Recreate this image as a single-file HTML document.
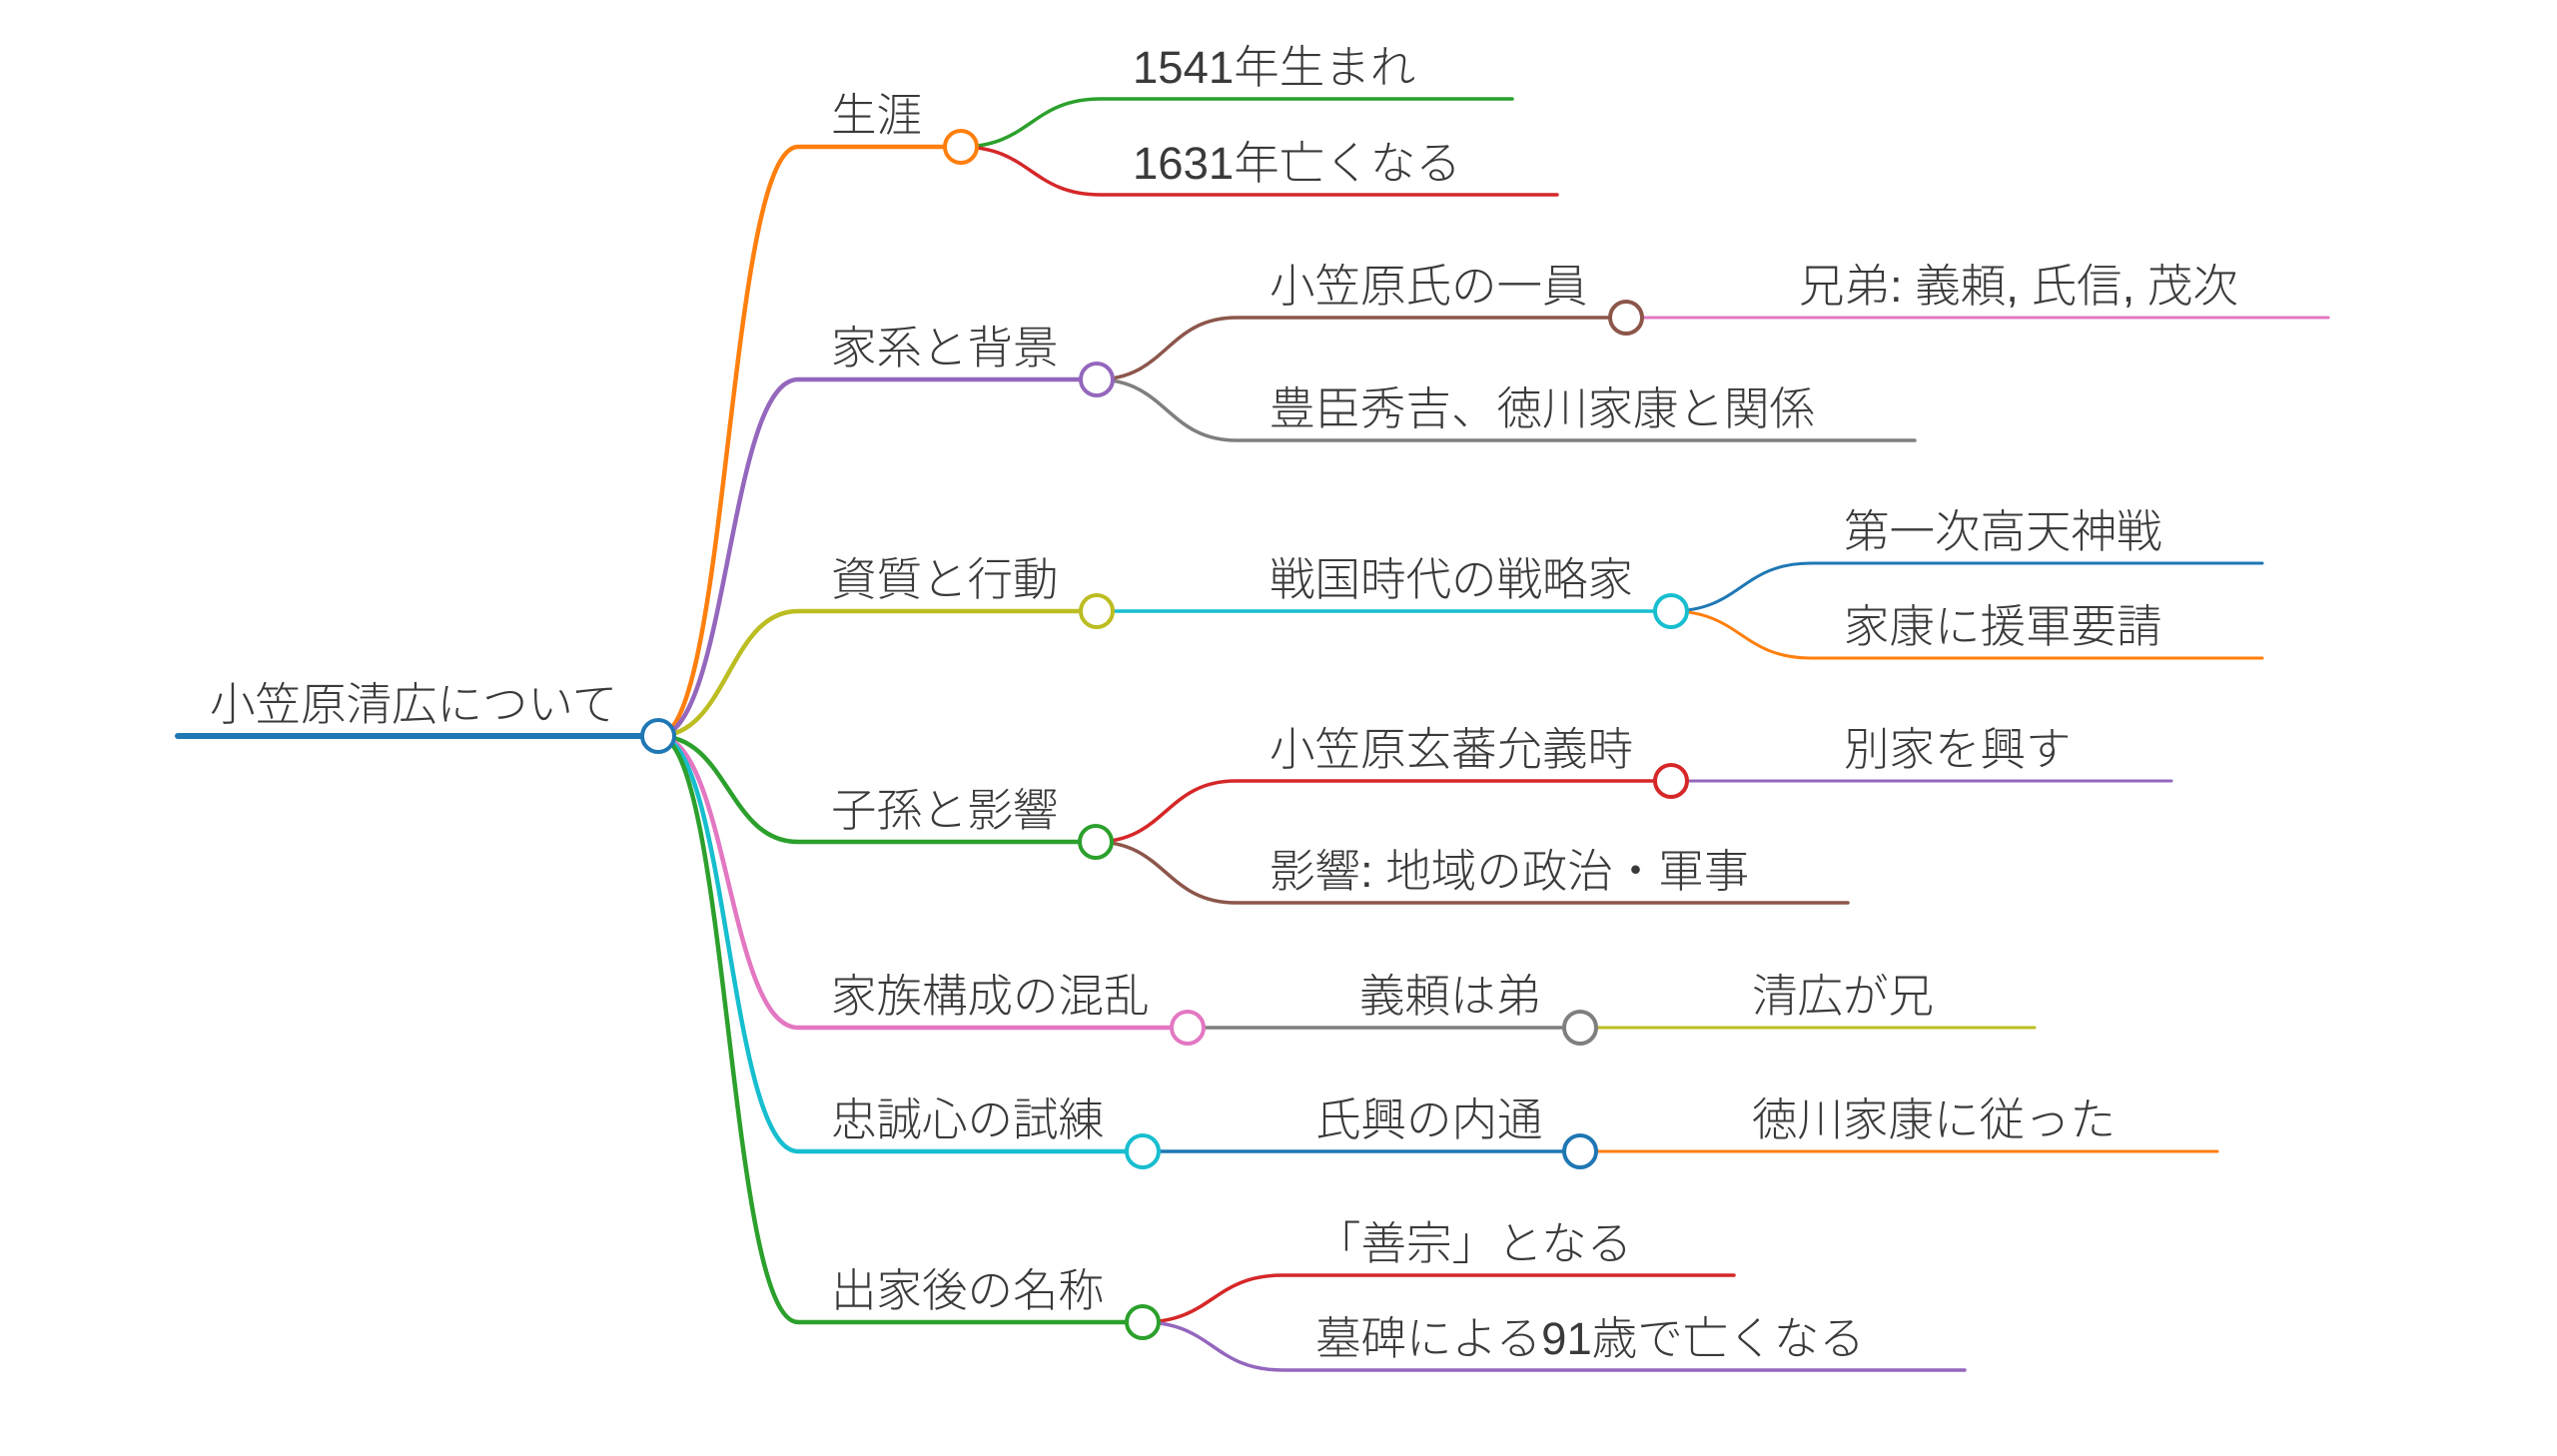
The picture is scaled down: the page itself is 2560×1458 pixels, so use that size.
<!DOCTYPE html>
<html lang="ja">
<head>
<meta charset="utf-8">
<style>
  html, body { margin: 0; padding: 0; background: #ffffff; }
  body { width: 2560px; height: 1458px; overflow: hidden; }
  svg { display: block; }
  text {
    font-family: "Liberation Sans", "Noto Sans CJK JP", sans-serif;
    font-size: 45.5px;
    font-weight: 300;
    fill: #3a3a3a;
  }
</style>
</head>
<body>
<svg width="2560" height="1458" viewBox="0 0 2560 1458" xmlns="http://www.w3.org/2000/svg">
  <g fill="none" stroke-linecap="round">
    <!-- Root line -->
    <path d="M178 737 H659" stroke="#1f77b4" stroke-width="6"/>

    <!-- Level 1 links -->
    <path d="M659 737 C729 737 729 147 799 147 H962" stroke="#ff7f0e" stroke-width="4.5"/>
    <path d="M659 737 C729 737 729 380 799 380 H1098" stroke="#9467bd" stroke-width="4.5"/>
    <path d="M659 737 C729 737 729 612 799 612 H1098" stroke="#bcbd22" stroke-width="4.5"/>
    <path d="M659 737 C729 737 729 843 799 843 H1097" stroke="#2ca02c" stroke-width="4.5"/>
    <path d="M659 737 C729 737 729 1029 799 1029 H1189" stroke="#e377c2" stroke-width="4.5"/>
    <path d="M659 737 C729 737 729 1153 799 1153 H1144" stroke="#17becf" stroke-width="4.5"/>
    <path d="M659 737 C729 737 729 1324 799 1324 H1144" stroke="#2ca02c" stroke-width="4.5"/>

    <!-- Level 2: 生涯 children -->
    <path d="M962 147 C1032 147 1032 99 1102 99 H1514" stroke="#2ca02c" stroke-width="3.5"/>
    <path d="M962 147 C1032 147 1032 195 1102 195 H1559" stroke="#d62728" stroke-width="3.5"/>

    <!-- Level 2: 家系と背景 children -->
    <path d="M1098 380 C1168 380 1168 318 1238 318 H1628" stroke="#8c564b" stroke-width="3.5"/>
    <path d="M1098 380 C1168 380 1168 441 1238 441 H1917" stroke="#7f7f7f" stroke-width="3.5"/>

    <!-- Level 2: 資質と行動 child -->
    <path d="M1098 612 H1673" stroke="#17becf" stroke-width="3.5"/>

    <!-- Level 2: 子孫と影響 children -->
    <path d="M1097 843 C1167 843 1167 782 1237 782 H1673" stroke="#d62728" stroke-width="3.5"/>
    <path d="M1097 843 C1167 843 1167 904 1237 904 H1850" stroke="#8c564b" stroke-width="3.5"/>

    <!-- Level 2: 家族構成の混乱 child -->
    <path d="M1189 1029 H1582" stroke="#7f7f7f" stroke-width="3.5"/>

    <!-- Level 2: 忠誠心の試練 child -->
    <path d="M1144 1153 H1582" stroke="#1f77b4" stroke-width="3.5"/>

    <!-- Level 2: 出家後の名称 children -->
    <path d="M1144 1324 C1214 1324 1214 1277 1284 1277 H1736" stroke="#d62728" stroke-width="3.5"/>
    <path d="M1144 1324 C1214 1324 1214 1372 1284 1372 H1967" stroke="#9467bd" stroke-width="3.5"/>

    <!-- Level 3 -->
    <path d="M1628 318 H2331" stroke="#e377c2" stroke-width="3"/>
    <path d="M1673 612 C1743 612 1743 564 1813 564 H2265" stroke="#1f77b4" stroke-width="3"/>
    <path d="M1673 612 C1743 612 1743 659 1813 659 H2265" stroke="#ff7f0e" stroke-width="3"/>
    <path d="M1673 782 H2174" stroke="#9467bd" stroke-width="3"/>
    <path d="M1582 1029 H2037" stroke="#bcbd22" stroke-width="3"/>
    <path d="M1582 1153 H2220" stroke="#ff7f0e" stroke-width="3"/>
  </g>

  <!-- Circles -->
  <g fill="#ffffff" stroke-width="4">
    <circle cx="659" cy="737" r="16" stroke="#1f77b4"/>
    <circle cx="962" cy="147" r="16" stroke="#ff7f0e"/>
    <circle cx="1098" cy="380" r="16" stroke="#9467bd"/>
    <circle cx="1098" cy="612" r="16" stroke="#bcbd22"/>
    <circle cx="1097" cy="843" r="16" stroke="#2ca02c"/>
    <circle cx="1189" cy="1029" r="16" stroke="#e377c2"/>
    <circle cx="1144" cy="1153" r="16" stroke="#17becf"/>
    <circle cx="1144" cy="1324" r="16" stroke="#2ca02c"/>
    <circle cx="1628" cy="318" r="16" stroke="#8c564b"/>
    <circle cx="1673" cy="612" r="16" stroke="#17becf"/>
    <circle cx="1673" cy="782" r="16" stroke="#d62728"/>
    <circle cx="1582" cy="1029" r="16" stroke="#7f7f7f"/>
    <circle cx="1582" cy="1153" r="16" stroke="#1f77b4"/>
  </g>

  <!-- Text -->
  <text x="210" y="721">小笠原清広について</text>

  <text x="832" y="131">生涯</text>
  <text x="832" y="364">家系と背景</text>
  <text x="832" y="596">資質と行動</text>
  <text x="832" y="827">子孫と影響</text>
  <text x="832" y="1013">家族構成の混乱</text>
  <text x="832" y="1137">忠誠心の試練</text>
  <text x="832" y="1308">出家後の名称</text>

  <text x="1134" y="83">1541年生まれ</text>
  <text x="1134" y="179">1631年亡くなる</text>
  <text x="1271" y="302">小笠原氏の一員</text>
  <text x="1271" y="425">豊臣秀吉、徳川家康と関係</text>
  <text x="1271" y="596">戦国時代の戦略家</text>
  <text x="1271" y="766">小笠原玄蕃允義時</text>
  <text x="1271" y="888">影響: 地域の政治・軍事</text>
  <text x="1361" y="1013">義頼は弟</text>
  <text x="1317" y="1137">氏興の内通</text>
  <text x="1317" y="1261">「善宗」となる</text>
  <text x="1317" y="1356">墓碑による91歳で亡くなる</text>

  <text x="1801" y="302">兄弟: 義頼, 氏信, 茂次</text>
  <text x="1846" y="548">第一次高天神戦</text>
  <text x="1846" y="643">家康に援軍要請</text>
  <text x="1846" y="766">別家を興す</text>
  <text x="1754" y="1013">清広が兄</text>
  <text x="1754" y="1137">徳川家康に従った</text>
</svg>
</body>
</html>
